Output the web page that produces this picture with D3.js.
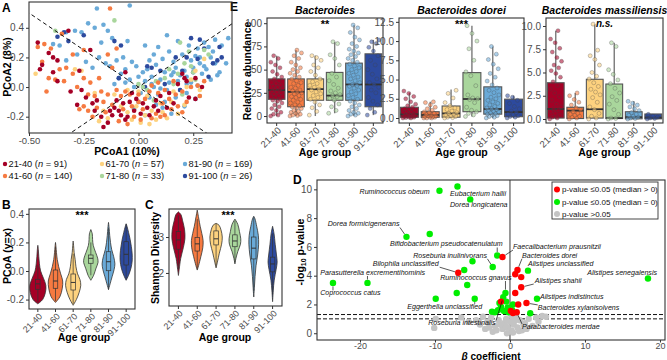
<!DOCTYPE html>
<html><head><meta charset="utf-8">
<script src="https://cdn.jsdelivr.net/npm/d3@7"></script>
<style>body{margin:0;background:#fff}svg{display:block}</style>
</head><body><svg id="chart" width="667" height="360"></svg>
<script>
// ---------------- DATA ----------------
const ageGroups = ["21-40","41-60","61-70","71-80","81-90","91-100"];
const groupN = [91,140,57,33,169,26];
const groupColors = ["#a50026","#f67a41","#fdd27f","#a9d69c","#6aaad8","#2d4a9e"];

// Panel A: PCoA coordinates [PCoA1, PCoA2]
const pcoa2140 = [[-0.46,0.30],[-0.41,0.23],[-0.44,0.15],[-0.45,0.12],[-0.39,0.20],[-0.37,0.18],[-0.39,0.10],[-0.37,0.04],[-0.31,-0.03],[-0.28,-0.12],[-0.27,0.11],[-0.26,-0.02],[-0.24,-0.07],[-0.21,-0.11],[-0.20,-0.16],[-0.19,-0.09],[-0.17,-0.20],[-0.16,-0.27],[-0.14,-0.24],[-0.13,-0.16],[-0.12,-0.19],[-0.11,-0.14],[-0.10,-0.09],[-0.09,-0.16],[-0.08,-0.19],[-0.07,-0.11],[-0.06,-0.22],[-0.05,-0.20],[-0.04,-0.10],[-0.02,-0.16],[-0.01,-0.08],[0.01,-0.18],[0.02,-0.11],[0.04,-0.14],[0.05,-0.19],[0.07,-0.13],[0.08,-0.09],[0.09,-0.16],[0.10,-0.06],[0.13,-0.14],[0.16,-0.11],[0.20,0.09],[0.21,0.06],[0.22,0.04],[0.23,-0.07],[0.26,-0.08],[0.29,0.00],[-0.06,0.10],[-0.32,0.38],[-0.22,0.25],[0.14,-0.04],[0.18,0.02],[0.26,0.06],[-0.03,-0.04]];
const pcoa4160 = [[-0.46,0.27],[-0.43,0.29],[-0.44,0.17],[-0.40,0.26],[-0.36,0.12],[-0.33,0.13],[-0.30,0.09],[-0.34,0.04],[-0.38,0.05],[-0.41,0.06],[-0.42,-0.03],[-0.28,0.00],[-0.25,0.06],[-0.22,0.03],[-0.23,-0.05],[-0.20,-0.06],[-0.18,0.06],[-0.17,-0.03],[-0.16,-0.10],[-0.14,-0.05],[-0.14,0.22],[-0.10,0.26],[-0.13,0.53],[-0.12,-0.12],[-0.10,-0.02],[-0.09,-0.23],[-0.08,-0.06],[-0.07,-0.15],[-0.06,-0.03],[-0.05,-0.25],[-0.04,-0.05],[-0.03,-0.13],[-0.02,-0.20],[0.00,-0.05],[0.01,-0.22],[0.02,-0.15],[0.03,-0.08],[0.05,-0.03],[0.06,-0.21],[0.08,-0.18],[0.09,-0.04],[0.11,-0.11],[0.12,-0.19],[0.14,-0.08],[0.15,-0.15],[0.17,-0.05],[0.18,-0.13],[0.20,-0.03],[0.22,-0.10],[0.24,0.00],[0.27,0.01],[0.28,-0.06],[0.30,0.04],[0.12,-0.02],[0.16,0.04],[-0.27,-0.15],[-0.25,-0.13],[-0.23,-0.16],[-0.21,-0.20],[-0.19,-0.14],[-0.15,-0.17],[-0.35,0.36],[-0.25,0.25],[0.06,0.01],[0.09,0.03],[0.20,-0.17],[-0.12,0.13],[-0.30,0.22],[0.00,-0.10],[0.10,-0.20]];
const pcoa6170 = [[-0.47,0.09],[-0.29,0.12],[-0.26,0.11],[-0.20,-0.04],[-0.16,-0.16],[-0.14,-0.21],[-0.11,-0.05],[-0.08,-0.13],[-0.05,-0.17],[-0.03,-0.22],[-0.01,-0.13],[0.01,-0.24],[0.03,-0.19],[0.04,-0.06],[0.06,-0.16],[0.08,-0.22],[0.10,-0.11],[0.11,-0.17],[0.13,-0.21],[0.15,-0.10],[0.18,-0.18],[0.21,-0.12],[0.24,0.05],[0.26,0.11],[0.30,0.19],[0.28,-0.02],[-0.05,-0.02],[0.00,-0.03],[0.16,-0.03],[0.22,0.00],[-0.18,-0.23],[0.05,-0.25]];
const pcoa7180 = [[-0.38,0.38],[-0.11,0.45],[0.02,0.00],[0.04,-0.02],[0.08,0.04],[0.12,0.06],[0.14,0.12],[0.18,0.09],[0.19,0.30],[0.21,0.16],[0.24,0.14],[0.25,0.10],[0.26,0.05],[0.28,-0.06],[0.30,0.25],[0.32,0.22],[0.20,-0.05],[0.16,0.02],[0.07,-0.09],[0.00,0.02],[0.23,0.24]];
const pcoa8190 = [[-0.39,0.29],[-0.36,0.28],[-0.33,0.37],[-0.29,0.38],[-0.26,0.37],[-0.23,0.43],[-0.20,0.40],[-0.19,0.53],[-0.16,0.42],[-0.14,0.38],[-0.12,0.33],[-0.33,0.18],[-0.28,0.22],[-0.24,0.17],[-0.21,0.13],[-0.18,0.20],[-0.15,0.16],[-0.13,0.14],[-0.10,0.18],[-0.08,0.09],[-0.06,0.12],[-0.04,0.05],[-0.03,0.17],[-0.02,0.00],[0.00,0.07],[0.01,-0.04],[0.03,0.04],[0.04,0.12],[0.05,-0.07],[0.06,0.07],[0.07,0.00],[0.08,0.15],[0.09,-0.05],[0.10,0.05],[0.11,0.19],[0.12,0.10],[0.13,-0.02],[0.14,0.03],[0.15,0.08],[0.16,0.17],[0.17,0.13],[0.18,0.04],[0.19,-0.02],[0.20,0.22],[0.21,0.11],[0.22,0.07],[0.23,0.28],[0.24,0.18],[0.25,0.13],[0.26,0.21],[0.27,0.26],[0.28,0.16],[0.29,0.09],[0.30,0.30],[0.31,0.12],[0.32,0.27],[0.33,0.20],[0.34,0.24],[0.35,0.16],[0.36,0.08],[0.37,0.10],[0.38,0.28],[0.40,0.16],[0.41,0.33],[0.33,0.05],[0.27,0.01],[0.22,-0.04],[0.17,-0.07],[0.12,-0.10],[0.06,0.02],[0.00,-0.10],[-0.02,-0.15],[0.03,-0.19],[0.08,-0.12],[0.11,-0.14],[0.15,-0.18],[-0.06,0.03],[-0.09,0.06],[-0.11,0.02],[-0.07,0.20],[-0.05,0.31],[0.02,0.10],[0.09,0.27],[0.14,0.24],[0.18,0.31],[0.03,0.28],[0.19,0.08],[0.24,0.03],[0.21,-0.13],[0.26,-0.08],[0.10,-0.01],[0.05,0.18],[-0.01,0.14],[0.16,0.10],[0.22,0.02],[0.28,0.20],[0.35,0.32],[0.13,0.35],[0.30,0.14],[0.07,0.22],[-0.17,0.30],[-0.04,0.55]];
const pcoa91100 = [[-0.37,0.34],[-0.32,0.31],[-0.34,0.37],[-0.25,0.35],[-0.11,0.31],[-0.08,0.28],[-0.09,0.06],[0.03,0.00],[0.06,0.13],[0.10,0.11],[0.12,0.02],[0.17,0.20],[0.20,0.11],[0.22,0.20],[0.25,0.10],[0.27,0.19],[0.28,0.32],[0.30,0.26],[0.32,0.07],[0.34,0.16],[0.36,0.18],[0.37,0.27],[0.24,0.33],[0.04,0.14],[0.19,-0.02],[0.38,0.20]];
const pcoaGroups = [pcoa2140,pcoa4160,pcoa6170,pcoa7180,pcoa8190,pcoa91100];

// Panel B: PCoA (y=x) violin profiles [value, relative density] and box stats [lo,q1,med,q3,hi]
const pcoaViolin = [
  [[-0.23,0],[-0.20,0.6],[-0.15,0.95],[-0.10,1.0],[-0.05,0.7],[0.0,0.35],[0.05,0.2],[0.10,0.12],[0.15,0.06],[0.18,0]],
  [[-0.22,0],[-0.18,0.55],[-0.12,0.85],[-0.07,0.9],[-0.02,0.65],[0.03,0.4],[0.08,0.22],[0.13,0.12],[0.17,0.06],[0.20,0]],
  [[-0.24,0],[-0.20,0.4],[-0.15,0.75],[-0.10,0.95],[-0.06,0.85],[-0.02,0.55],[0.03,0.35],[0.08,0.25],[0.13,0.12],[0.18,0.05],[0.21,0]],
  [[-0.065,0],[-0.03,0.35],[0.02,0.65],[0.06,0.9],[0.09,0.85],[0.13,0.6],[0.18,0.3],[0.22,0.22],[0.26,0.18],[0.29,0]],
  [[-0.13,0],[-0.09,0.2],[-0.04,0.45],[0.01,0.7],[0.05,0.8],[0.10,0.65],[0.15,0.4],[0.20,0.25],[0.25,0.15],[0.30,0.08],[0.34,0]],
  [[-0.065,0],[-0.03,0.3],[0.02,0.6],[0.07,0.75],[0.12,0.75],[0.17,0.65],[0.22,0.5],[0.27,0.3],[0.31,0.12],[0.33,0]]
];
const pcoaBox = [[-0.22,-0.128,-0.09,-0.058,0.04],[-0.21,-0.121,-0.07,0.007,0.17],[-0.23,-0.133,-0.08,-0.021,0.12],[-0.03,0.054,0.089,0.112,0.20],[-0.13,0.002,0.065,0.135,0.30],[-0.06,0.042,0.117,0.205,0.33]];

// Panel C: Shannon diversity
const shannonViolin = [
  [[1.93,0],[2.1,0.12],[2.4,0.35],[2.7,0.75],[2.95,1.0],[3.2,0.95],[3.45,0.65],[3.62,0.4],[3.7,0]],
  [[2.08,0],[2.2,0.2],[2.45,0.55],[2.7,0.85],[2.9,0.9],[3.1,0.7],[3.3,0.45],[3.5,0.25],[3.75,0]],
  [[2.14,0],[2.3,0.2],[2.55,0.5],[2.8,0.85],[3.0,0.95],[3.2,0.75],[3.33,0.45],[3.38,0]],
  [[2.25,0],[2.4,0.15],[2.6,0.45],[2.8,0.85],[2.95,0.9],[3.15,0.7],[3.35,0.45],[3.5,0]],
  [[1.33,0],[1.6,0.1],[1.9,0.2],[2.2,0.35],[2.5,0.6],[2.8,0.75],[3.05,0.7],[3.3,0.45],[3.5,0.2],[3.58,0]],
  [[1.2,0],[1.5,0.1],[1.8,0.25],[2.1,0.55],[2.3,0.7],[2.5,0.6],[2.8,0.4],[3.1,0.22],[3.3,0]]
];
const shannonBox = [[2.1,2.66,2.92,3.15,3.6],[2.1,2.61,2.81,2.99,3.5],[2.2,2.78,2.95,3.17,3.38],[2.3,2.73,2.89,3.06,3.45],[1.5,2.39,2.69,3.0,3.55],[1.4,2.03,2.25,2.44,3.1]];

// Panel E: relative abundance values per age group
const bactValues = [
  [0,1,2,4,6,8,10,12,14,16,17,18,20,21,22,24,25,26,27,28,29,30,31,32,33,35,36,38,40,42,45,48,52,55,58,62,65],
  [0,0.5,1,2,3,4,5,6,8,9,10,11,12,14,15,17,18,20,21,22,24,25,26,27,28,30,31,33,35,36,38,40,42,44,46,48,50,52,55,58,62,65,68,71],
  [1,5,9,12,15,18,20,22,24,26,28,29,31,33,35,37,40,44,48,52,55,60,63,65],
  [3,6,10,13,17,19,21,22,23,25,27,30,34,38,42,46,55,62,66,78,80],
  [0,1,2,3,4,6,8,10,12,14,16,18,20,22,24,26,28,30,32,33,34,36,38,40,42,44,46,48,50,52,54,56,58,60,62,64,66,68,70,72,75,78,82,85,90,95,98],
  [1,4,8,12,16,20,25,28,31,34,36,40,45,50,55,60,65,70,74,78,80,82]
];
const bactBox = [[0,18,28,40,65],[0,10,26,40,71],[0,17,29,40,65],[3,17,22,47,80],[0,17,34,57,98],[1,10,34,67,82]];
const doreiValues = [
  [0,0,0.05,0.1,0.1,0.2,0.2,0.3,0.3,0.4,0.4,0.5,0.6,0.7,0.8,0.9,1.0,1.1,1.2,1.4,1.6,1.8,2.1,2.5,2.8,3.2,3.5],
  [0,0,0,0.1,0.1,0.2,0.2,0.3,0.3,0.4,0.5,0.6,0.7,0.8,1.0,1.2,1.4,1.7,2.0,2.1],
  [0,0.05,0.1,0.2,0.3,0.4,0.5,0.6,0.7,0.9,1.1,1.3,1.6,2.0,2.6,3.2,3.6],
  [0.2,0.4,0.6,0.8,1.0,1.4,2.0,2.4,2.5,2.6,3.0,4.2,5.5,6.0,7.5,9.0,10.0,11.0,12.0],
  [0,0.1,0.2,0.3,0.4,0.5,0.6,0.7,0.8,0.9,1.0,1.1,1.2,1.3,1.5,1.7,1.9,2.1,2.3,2.5,2.7,3.0,3.3,3.6,3.9,4.3,4.8,5.3,5.8,6.4,7.0,7.6,8.3,9.3],
  [0,0.1,0.2,0.3,0.4,0.5,0.7,0.9,1.2,1.5,1.9,2.3,2.7,2.9]
];
const doreiBox = [[0,0.09,0.48,1.39,3.3],[0,0.09,0.39,0.82,2.1],[0,0.1,0.6,1.56,3.7],[0.2,0.82,2.47,5.9,12.0],[0,0.5,1.17,4.05,9.3],[0,0.17,0.77,2.45,2.9]];
const massValues = [
  [0,0.1,0.2,0.4,0.6,0.8,1.0,1.1,1.3,1.6,2.0,2.4,2.8,3.2,3.6,4.0,4.5,4.9,5.2,5.5,5.8,6.2,6.6,7.2,7.6,8.2,8.6,9.5],
  [0,0.1,0.2,0.3,0.4,0.5,0.6,0.8,1.0,1.2,1.5,1.8,2.1,2.5,2.8],
  [0,0.1,0.3,0.6,1.0,1.3,1.8,2.3,2.6,2.9,3.2,3.5,3.9,4.3,4.6,5.0,5.8,6.4,6.8,7.4,10.2],
  [0,0.05,0.1,0.5,1.0,1.6,2.0,2.4,2.8,3.3,3.8,4.2,4.8,5.3,7.8,8.2],
  [0,0.05,0.1,0.2,0.3,0.4,0.5,0.7,0.9,1.1,1.3,1.5,1.7,1.9],
  [0,0.05,0.1,0.2,0.3,0.5]
];
const massBox = [[0,0.1,1.08,3.9,9.5],[0,0.05,0.9,1.26,2.8],[0,0.1,1.05,4.27,10.2],[0,0.05,0.1,3.76,8.2],[0,0.02,0.2,0.78,1.9],[0,0.02,0.15,0.54,0.5]];
const eTitles = ["Bacteroides","Bacteroides dorei","Bacteroides massiliensis"];
const eSignif = ["**","***","n.s."];
const eTicks = [[0,25,50,75,100],[0,2.5,5,7.5,10,12.5],[0,2.5,5,7.5,10]];

// Panel D: beta coefficient vs -log10 p-value
const dRed = [[-1.0,5.3],[1.0,4.4],[0.7,4.1],[1.5,3.9],[-6.9,4.2],[1.5,3.2],[0.7,2.8],[1.1,2.0],[2.2,2.1],[-1.2,2.2],[0.1,1.55],[0.9,1.46],[0.4,1.4]];
const dGreen = [[-9.4,9.9],[-7.0,10.2],[-5.3,9.3],[-13.8,6.7],[-10.7,6.9],[-1.7,5.4],[-2.3,4.6],[-5.0,5.0],[-6.1,4.4],[2.4,4.35],[18.4,3.8],[-19.0,3.5],[-23.6,3.5],[-5.7,3.35],[-7.1,2.8],[-9.9,2.4],[-4.7,2.4],[-0.6,2.8],[-0.9,2.5],[3.6,2.4],[-1.4,2.1],[-0.3,1.8],[-1.6,1.6],[-0.8,1.55],[-0.2,1.45],[0.3,1.6],[-1.2,1.85],[-2.4,1.5],[0.4,2.0],[2.7,1.39],[-0.5,2.2],[-2.0,1.45]];
const dGray = [[-9.9,1.0],[-10.1,0.37],[-3.3,0.3],[-2.3,0.1],[-4.5,0.9],[-4.0,0.6],[-3.0,0.8],[-2.5,1.1],[-2.0,0.5],[-1.5,0.9],[-1.0,0.3],[-0.8,0.7],[-0.5,1.0],[-0.3,0.4],[0.0,0.8],[0.2,0.2],[0.5,0.6],[0.8,1.1],[1.0,0.4],[1.3,0.9],[1.6,0.2],[2.0,0.7],[2.5,1.0],[3.0,0.5],[3.5,1.1],[4.3,1.2],[-1.8,0.2],[0.4,0.05],[-0.4,0.0],[1.2,0.15],[-2.8,0.4],[2.2,0.3],[-5.5,0.8],[-6.5,1.1],[3.8,0.8],[4.8,1.15],[-0.6,0.5],[0.7,0.9],[1.8,0.6],[-1.3,0.6],[0.2,1.2],[-3.6,1.15]];
// [name, label beta, label -log10p, anchor, point beta, point -log10p]
const dLabels = [
  ["Ruminococcus obeum",-10.7,9.7,"end",null,null],
  ["Eubacterium hallii",-8.0,9.57,"start",null,null],
  ["Dorea longicatena",-8.0,8.74,"start",null,null],
  ["Dorea formicigenerans",-24.3,7.42,"start",-13.8,6.7],
  ["Bifidobacterium pseudocatenulatum",-16.0,6.03,"start",-1.7,5.4],
  ["Faecalibacterium prausnitzii",0.4,5.85,"start",-1.0,5.3],
  ["Bacteroides dorei",1.6,5.25,"start",1.0,4.4],
  ["Roseburia inulinivorans",-12.9,5.24,"start",-2.3,4.6],
  ["Alistipes unclassified",2.4,4.7,"start",null,null],
  ["Bilophila unclassified",-18.3,4.66,"start",-6.9,4.2],
  ["Parasutterella excrementihominis",-25.3,4.05,"start",-19.0,3.5],
  ["Alistipes senegalensis",10.3,4.08,"start",null,null],
  ["Ruminococcus gnavus",-9.3,3.7,"start",-0.6,2.8],
  ["Alistipes shahii",3.3,3.49,"start",1.5,3.2],
  ["Coprococcus catus",-25.3,2.63,"start",-23.6,3.5],
  ["Alistipes indistinctus",4.0,2.38,"start",null,null],
  ["Eggerthella unclassified",-13.7,1.69,"start",-4.7,2.4],
  ["Bacteroides xylanisolvens",3.7,1.62,"start",2.2,2.1],
  ["Roseburia intestinalis",-10.9,0.54,"start",-0.9,2.5],
  ["Parabacteroides merdae",1.6,0.3,"start",0.9,1.46]
];
const dLegend = [["p-value \u22640.05 (median > 0)","#ff0000"],["p-value \u22640.05 (median = 0)","#00ee00"],["p-value >0.05","#c4c4c4"]];

// ---------------- DRAWING ----------------
const FONT = "'Liberation Sans', Arial, Helvetica, sans-serif";
const AX = "#4d4d4d", FR = "#333333";
const svg = d3.select("#chart").attr("font-family", FONT);

function frame(x0,y0,x1,y1){
  svg.append("rect").attr("x",x0).attr("y",y0).attr("width",x1-x0).attr("height",y1-y0)
    .attr("fill","none").attr("stroke",FR).attr("stroke-width",1.1);
}
function styleAxis(g, fs){
  g.attr("font-family",FONT).attr("font-size",fs);
  g.select(".domain").remove();
  g.selectAll(".tick line").attr("stroke",FR);
  g.selectAll(".tick text").attr("fill",AX);
}
function yAxis(scale,x,ticks,fmt,fs){
  const g = svg.append("g").attr("transform",`translate(${x},0)`)
    .call(d3.axisLeft(scale).tickValues(ticks).tickFormat(fmt).tickSize(3).tickPadding(2));
  styleAxis(g,fs||10); return g;
}
function xAxis(scale,y,ticks,fmt,fs,ts){
  const g = svg.append("g").attr("transform",`translate(0,${y})`)
    .call(d3.axisBottom(scale).tickValues(ticks).tickFormat(fmt).tickSize(ts||3).tickPadding(ts?0.5:1));
  styleAxis(g,fs||10); return g;
}
function bandAxis(band,y,fs){
  const g = svg.append("g").attr("transform",`translate(0,${y})`)
    .call(d3.axisBottom(band).tickSize(3));
  styleAxis(g,fs||9);
  g.selectAll(".tick text").attr("x",0).attr("y",0).attr("dy",0).attr("text-anchor","end")
    .attr("transform","translate(5,8) rotate(-45)");
}
function label(x,y,str,o){
  o=o||{};
  const t = svg.append("text").attr("x",x).attr("y",y).text(str)
    .attr("font-size",o.fs||10.5).attr("font-weight",o.fw||"bold")
    .attr("text-anchor",o.anchor||"middle").attr("fill",o.fill||"#000");
  if(o.italic) t.attr("font-style","italic");
  if(o.rot) t.attr("transform",`rotate(-90,${x},${y})`);
  return t;
}

// Panel letters
[["A",2,12],["B",2,209],["C",145,209],["E",230,11],["D",293,184]].forEach(d=>label(d[1],d[2],d[0],{fs:12,anchor:"start"}));

// ===== Panel A =====
const ax = d3.scaleLinear().domain([-0.5,0.427]).range([29,232]);
const ay = d3.scaleLinear().domain([-0.31,0.574]).range([133,2]);
svg.append("clipPath").attr("id","clipA").append("rect").attr("x",29).attr("y",2).attr("width",203).attr("height",131);
const gA = svg.append("g").attr("clip-path","url(#clipA)");
const drawOrder = [4,5,3,2,1,0];
drawOrder.forEach(gi=>{
  gA.selectAll(null).data(pcoaGroups[gi]).enter().append("circle")
    .attr("cx",d=>ax(d[0])).attr("cy",d=>ay(d[1])).attr("r",2.3).attr("fill",groupColors[gi]);
});
[[[-0.7,0.7],[0.7,-0.7]],[[-0.7,-0.7],[0.7,0.7]]].forEach(l=>{
  gA.append("line").attr("x1",ax(l[0][0])).attr("y1",ay(l[0][1])).attr("x2",ax(l[1][0])).attr("y2",ay(l[1][1]))
    .attr("stroke","#111").attr("stroke-width",1).attr("stroke-dasharray","4,3");
});
frame(29,2,232,133);
yAxis(ay,29,[-0.2,0,0.2,0.4],d=>d.toFixed(1));
xAxis(ax,133,[-0.5,-0.25,0,0.25],d=>d.toFixed(2),9.5);
label(127,155,"PCoA1 (10%)");
label(10.5,67,"PCoA2 (8%)",{rot:true});
// legend
const legCols=[5,102,185], legRows=[167,179];
ageGroups.forEach((g,i)=>{
  const lx = legCols[Math.floor(i/2)], ly = legRows[i%2];
  svg.append("circle").attr("cx",lx).attr("cy",ly-3).attr("r",2.2).attr("fill",groupColors[i]);
  const t = svg.append("text").attr("x",lx+3.5).attr("y",ly).attr("font-size",9.3).attr("fill","#111");
  t.append("tspan").text(g+" (");
  t.append("tspan").attr("font-style","italic").text("n");
  t.append("tspan").text(" = "+groupN[i]+")");
});

// ===== Violin helper =====
function violins(band,yS,profiles,boxes,maxHalf,boxW){
  const area = d3.area().curve(d3.curveCatmullRom).y(d=>yS(d[0]));
  profiles.forEach((prof,i)=>{
    const c = band(ageGroups[i]) + band.bandwidth()/2;
    svg.append("path").datum(prof)
      .attr("d",area.x0(d=>c-d[1]*maxHalf).x1(d=>c+d[1]*maxHalf))
      .attr("fill",groupColors[i]).attr("stroke",FR).attr("stroke-width",0.8);
    const b = boxes[i];
    svg.append("line").attr("x1",c).attr("x2",c).attr("y1",yS(b[0])).attr("y2",yS(b[4])).attr("stroke",FR).attr("stroke-width",0.7);
    svg.append("rect").attr("x",c-boxW/2).attr("width",boxW).attr("y",yS(b[3])).attr("height",yS(b[1])-yS(b[3]))
      .attr("fill",groupColors[i]).attr("stroke",FR).attr("stroke-width",0.7);
    svg.append("line").attr("x1",c-boxW/2).attr("x2",c+boxW/2).attr("y1",yS(b[2])).attr("y2",yS(b[2])).attr("stroke",FR).attr("stroke-width",1);
  });
}

// ===== Panel B =====
const bx = d3.scaleBand().domain(ageGroups).range([29,135]);
const by = d3.scaleLinear().domain([-0.266,0.434]).range([309,209]);
violins(bx,by,pcoaViolin,pcoaBox,8,4.5);
frame(29,209,135,309);
yAxis(by,29,[-0.2,0,0.2,0.4],d=>d.toFixed(1));
bandAxis(bx,309,9);
label(84,341,"Age group");
label(10.5,256,"PCoA (y=x)",{rot:true});
label(82,219,"***",{fs:11});

// ===== Panel C =====
const cxS = d3.scaleBand().domain(ageGroups).range([169,282]);
const cyS = d3.scaleLinear().domain([1.08,3.78]).range([306,209]);
violins(cxS,cyS,shannonViolin,shannonBox,6.5,4.5);
frame(169,209,282,306);
yAxis(cyS,169,[2,3],d=>String(d));
bandAxis(cxS,306,9);
label(225,341,"Age group");
label(158.5,258,"Shannon Diversity",{rot:true});
label(228,219,"***",{fs:11});

// ===== Panel E =====
const eSpecs = [
  {x0:267,x1:383,dom:[-7.5,105.6],vals:bactValues,box:bactBox,fmt:d=>String(d)},
  {x0:399,x1:524,dom:[-0.65,13.0],vals:doreiValues,box:doreiBox,fmt:d=>d.toFixed(1)},
  {x0:546,x1:663,dom:[-0.43,10.86],vals:massValues,box:massBox,fmt:d=>d.toFixed(1)}
];
eSpecs.forEach((s,k)=>{
  const band = d3.scaleBand().domain(ageGroups).range([s.x0,s.x1]);
  const yS = d3.scaleLinear().domain(s.dom).range([123,18]);
  const bw = band.bandwidth();
  ageGroups.forEach((g,i)=>{
    const c = band(g)+bw/2, b = s.box[i], w = bw*0.86;
    svg.append("line").attr("x1",c).attr("x2",c).attr("y1",yS(b[0])).attr("y2",yS(b[4])).attr("stroke","#7a7a7a").attr("stroke-width",1.4);
    svg.append("rect").attr("x",c-w/2).attr("width",w).attr("y",yS(b[3])).attr("height",yS(b[1])-yS(b[3]))
      .attr("fill",groupColors[i]).attr("stroke","#555").attr("stroke-width",1.1);
    svg.append("line").attr("x1",c-w/2).attr("x2",c+w/2).attr("y1",yS(b[2])).attr("y2",yS(b[2])).attr("stroke","#333").attr("stroke-width",1.8);
    svg.selectAll(null).data(s.vals[i]).enter().append("circle")
      .attr("cx",(d,j)=>c+(((j*0.6180339)%1)-0.5)*bw*0.62)
      .attr("cy",d=>yS(d)).attr("r",2)
      .attr("fill",groupColors[i]).attr("fill-opacity",0.55)
      .attr("stroke","#444").attr("stroke-opacity",0.6).attr("stroke-width",0.5);
  });
  frame(s.x0,18,s.x1,123);
  yAxis(yS,s.x0,eTicks[k],s.fmt,10);
  bandAxis(band,123,9.5);
  const mid=(s.x0+s.x1)/2;
  label(mid,14,eTitles[k],{italic:true,fs:10.5});
  label(mid,eSignif[k]==="n.s."?27:28,eSignif[k],{italic:eSignif[k]==="n.s.",fs:eSignif[k]==="n.s."?10:11});
  label(mid,156,"Age group");
});
label(250.5,71,"Relative abundance",{rot:true});

// ===== Panel D =====
const dx = d3.scaleLinear().domain([-25.73,20.67]).range([317,665]);
const dy = d3.scaleLinear().domain([-0.47,10.65]).range([340,180]);
svg.append("clipPath").attr("id","clipD").append("rect").attr("x",317).attr("y",180).attr("width",348).attr("height",160);
const gD = svg.append("g").attr("clip-path","url(#clipD)");
gD.append("line").attr("x1",dx(0)).attr("x2",dx(0)).attr("y1",180).attr("y2",340).attr("stroke","#222").attr("stroke-width",0.9);
[1.3,1.0].forEach(v=>gD.append("line").attr("x1",317).attr("x2",665).attr("y1",dy(v)).attr("y2",dy(v))
  .attr("stroke","#111").attr("stroke-width",1).attr("stroke-dasharray","4,2"));
gD.selectAll(null).data(dGray).enter().append("circle").attr("cx",d=>dx(d[0])).attr("cy",d=>dy(d[1])).attr("r",3.2).attr("fill","#c4c4c4");
gD.selectAll(null).data(dGreen).enter().append("circle").attr("cx",d=>dx(d[0])).attr("cy",d=>dy(d[1])).attr("r",3.2).attr("fill","#00ee00");
gD.selectAll(null).data(dRed).enter().append("circle").attr("cx",d=>dx(d[0])).attr("cy",d=>dy(d[1])).attr("r",3.2).attr("fill","#ff0000");
dLabels.forEach(l=>{
  const t = gD.append("text").attr("x",dx(l[1])).attr("y",dy(l[2])).attr("text-anchor",l[3])
    .attr("font-size",7.1).attr("font-style","italic").attr("fill","#111").text(l[0]);
  if(l[4]!==null){
    const bb = t.node().getBBox();
    const px = dx(l[4]), py = dy(l[5]);
    const qx = Math.max(bb.x, Math.min(px, bb.x+bb.width));
    const qy = Math.max(bb.y+1, Math.min(py, bb.y+bb.height-1));
    const dd = Math.hypot(px-qx,py-qy);
    if(dd>4){
      const ex = px-(px-qx)/dd*3.4, ey = py-(py-qy)/dd*3.4;
      gD.append("line").attr("x1",qx).attr("y1",qy).attr("x2",ex).attr("y2",ey).attr("stroke","#111").attr("stroke-width",0.7);
    }
  }
});
// legend
svg.append("rect").attr("x",552).attr("y",182).attr("width",106).attr("height",37).attr("fill","#fff").attr("stroke","#333").attr("stroke-width",0.9);
dLegend.forEach((d,i)=>{
  const yy = [189.5,202,214][i];
  svg.append("circle").attr("cx",557).attr("cy",yy).attr("r",3).attr("fill",d[1]);
  svg.append("text").attr("x",562).attr("y",yy+2.8).attr("font-size",8).attr("fill","#111").text(d[0]);
});
frame(317,180,665,340);
yAxis(dy,317,[0,2,4,6,8,10],d=>String(d));
xAxis(dx,340,[-20,-10,0,10,20],d=>String(d),9,2.5);
const xl = svg.append("text").attr("x",491).attr("y",359.5).attr("text-anchor","middle").attr("font-size",10).attr("font-weight","bold");
xl.append("tspan").attr("font-style","italic").text("\u03b2");
xl.append("tspan").text(" coefficient");
const yl = svg.append("text").attr("x",303.5).attr("y",252).attr("text-anchor","middle").attr("font-size",10.5).attr("font-weight","bold")
  .attr("transform","rotate(-90,303.5,252)");
yl.append("tspan").text("-log");
yl.append("tspan").attr("font-size",7).attr("dy",2.5).text("10");
yl.append("tspan").attr("dy",-2.5).text(" p-value");
</script></body></html>
